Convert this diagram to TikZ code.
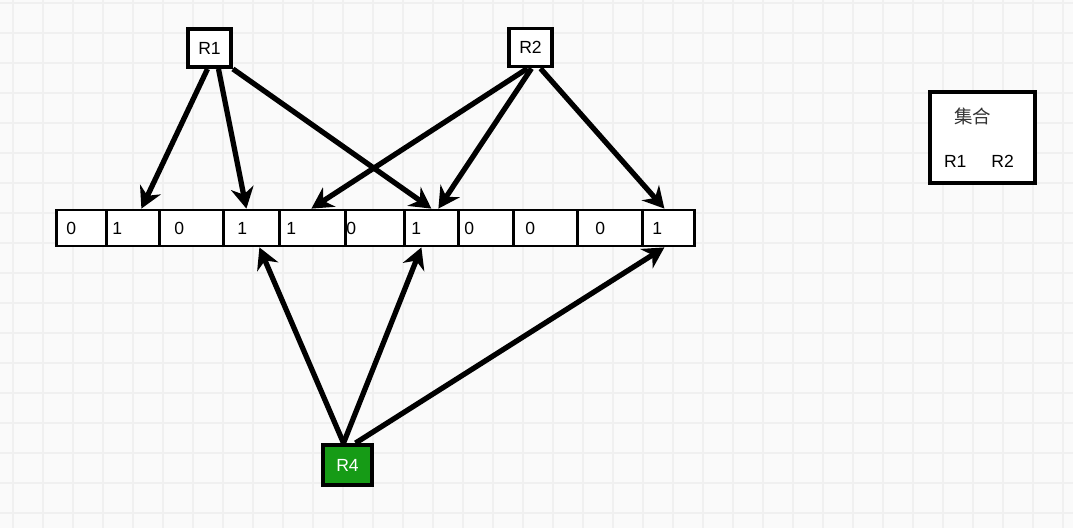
\documentclass[tikz,border=0pt]{standalone}
\usepackage{fontspec}
\setmainfont{Liberation Sans}
\newfontfamily\cjk{Noto Sans CJK SC}
\usetikzlibrary{arrows.meta}
\definecolor{gridgray}{RGB}{240,240,240}
\definecolor{paper}{RGB}{250,250,250}
\definecolor{regreen}{RGB}{22,155,22}
\tikzset{cell/.style 2 args={draw,fill=white,line width=1.6pt,anchor=west,minimum height=0.72cm,inner ysep=0pt,inner xsep=#2,text width=#1,align=left}}
\tikzset{reg box/.style={draw,fill=white,line width=2.2pt,minimum width=0.86cm,minimum height=0.76cm,inner sep=0pt}}
\tikzset{set box/.style={draw,fill=white,line width=2.2pt,minimum height=1.82cm,inner xsep=0.28cm,text width=1.54cm,align=left}}
\tikzset{hit/.style={->,line width=3pt}}

\begin{document}
\begin{tikzpicture}[x=0.02cm,y=-0.02cm,>={Stealth[length=12pt,width=13pt]},font=\fontsize{10pt}{12pt}\selectfont]
    \useasboundingbox (0,0) rectangle (1073,528);
    \fill[paper] (0,0) rectangle (1073,528);
    \foreach \gx in {13,43,...,1063} \draw[gridgray,line width=1pt] (\gx,0) -- (\gx,528);
    \foreach \gy in {3,33,...,513} \draw[gridgray,line width=1pt] (0,\gy) -- (1073,\gy);

    \node[cell={0.6cm}{0.2cm}]   (c0)  at (55,228)  {0};
    \node[cell={0.82cm}{0.12cm}] (c1)  at (105,228) {1};
    \node[cell={0.68cm}{0.3cm}]  (c2)  at (158,228) {0};
    \node[cell={0.56cm}{0.28cm}] (c3)  at (222,228) {1};
    \node[cell={1.04cm}{0.14cm}] (c4)  at (278,228) {1};
    \node[cell={1.14cm}{0.02cm}] (c5)  at (344,228) {0};
    \node[cell={0.8cm}{0.14cm}]  (c6)  at (403,228) {1};
    \node[cell={0.86cm}{0.12cm}] (c7)  at (457,228) {0};
    \node[cell={0.8cm}{0.24cm}]  (c8)  at (512,228) {0};
    \node[cell={0.58cm}{0.36cm}] (c9)  at (576,228) {0};
    \node[cell={0.64cm}{0.2cm}]  (c10) at (641,228) {1};

    \node[reg box] (r1) at (209.5,48) {R1};
    \node[reg box] (r2) at (530.5,47.5) {R2};
    \node[reg box,fill=regreen,text=white,minimum width=0.98cm,minimum height=0.8cm] (r4) at (347.5,465) {R4};
    \node[set box] (set) at (982.5,137.5) {{\hspace*{0.2cm}\cjk\color{black!80}\fontsize{10.5pt}{12pt}\selectfont 集合}\\[13pt]R1\hspace{0.5cm}R2};

    \draw[hit] ([xshift=-0.04cm]r1.south) -- ([xshift=0.17cm]c1.north);
    \draw[hit] ([xshift=0.18cm]r1.south) -- ([xshift=-0.1cm]c3.north);
    \draw[hit] (r1.south east) -- (c6.north);

    \draw[hit] ([xshift=-0.06cm]r2.south) -- ([xshift=-0.02cm]c4.north);
    \draw[hit] ([xshift=0.02cm]r2.south) -- ([xshift=0.14cm]c6.north);
    \draw[hit] ([xshift=0.2cm]r2.south) -- ([xshift=-0.08cm]c10.north);

    \draw[hit] ([xshift=-0.08cm]r4.north) -- ([xshift=0.16cm]c3.south);
    \draw[hit] ([xshift=-0.08cm]r4.north) -- ([xshift=-0.2cm]c6.south);
    \draw[hit] ([xshift=0.16cm]r4.north) -- ([xshift=-0.08cm]c10.south);
\end{tikzpicture}
\end{document}
